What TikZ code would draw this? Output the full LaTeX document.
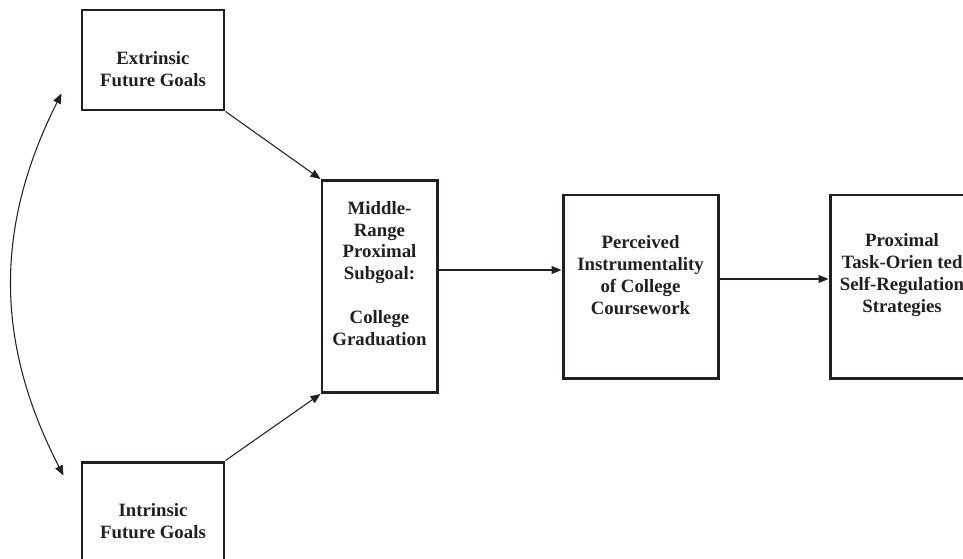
\documentclass[tikz,border=0pt]{standalone}
\usepackage{fontspec}
\setmainfont{Liberation Serif}
\usetikzlibrary{arrows.meta,positioning}
\definecolor{ink}{RGB}{35,31,32}
\tikzset{
  goalbox/.style={draw=ink, line width=1.7pt, rectangle},
  goaltext/.style={anchor=north, align=center, inner sep=0pt, text=ink,
    font=\fontsize{10.7}{12.4}\selectfont\bfseries},
  link/.style={->, draw=ink, line width=0.6pt},
}
\begin{document}
\begin{tikzpicture}[>={Triangle[length=2mm,width=1.6mm]}]
    \useasboundingbox (0,0) rectangle (19.26,11.16);
    \clip (0,0) rectangle (19.26,11.16);
    % future goals
    \node[goalbox, minimum width=2.84cm, minimum height=2cm] (ext) at (3.06,9.96) {};
    \node[goaltext, below=0.86cm of ext.north] (ext-t) {Extrinsic\\Future Goals};
    \node[goalbox, minimum width=2.84cm, minimum height=2cm] (int) at (3.06,0.92) {};
    \node[goaltext, below=0.86cm of int.north] (int-t) {Intrinsic\\Future Goals};
    % chain of boxes
    \node[goalbox, minimum width=2.3cm, minimum height=4.24cm] (mid) at (7.59,5.43) {};
    \node[goaltext, below=0.44cm of mid.north] (mid-t)
        {Middle-\\Range\\Proximal\\Subgoal:\\[12.4pt]College\\Graduation};
    \node[goalbox, minimum width=3.1cm, minimum height=3.66cm] (perc) at (12.81,5.43) {};
    \node[goaltext, below=0.84cm of perc.north] (perc-t)
        {Perceived\\Instrumentality\\of College\\Coursework};
    \node[goalbox, minimum width=2.88cm, minimum height=3.66cm] (prox) at (18.04,5.43) {};
    \node[goaltext, below=0.8cm of prox.north] (prox-t)
        {Proximal\\Task-Orien ted\\Self-Regulation\\Strategies};
    % paths
    \coordinate (ca) at ([shift={(-0.38,0.36)}]ext.south west);
    \coordinate (cb) at ([shift={(-0.34,-0.30)}]int.north west);
    \draw[link, <->] (ca) to[bend right=27] (cb);
    \draw[link] (ext.south east) -- (mid.north west);
    \draw[link] (int.north east) -- (mid.south west);
    \draw[link] ([yshift=3.3mm]mid.east) -- ([yshift=3.3mm]perc.west);
    \draw[link] ([yshift=1.5mm]perc.east) -- ([yshift=1.5mm]prox.west);
\end{tikzpicture}
\end{document}
